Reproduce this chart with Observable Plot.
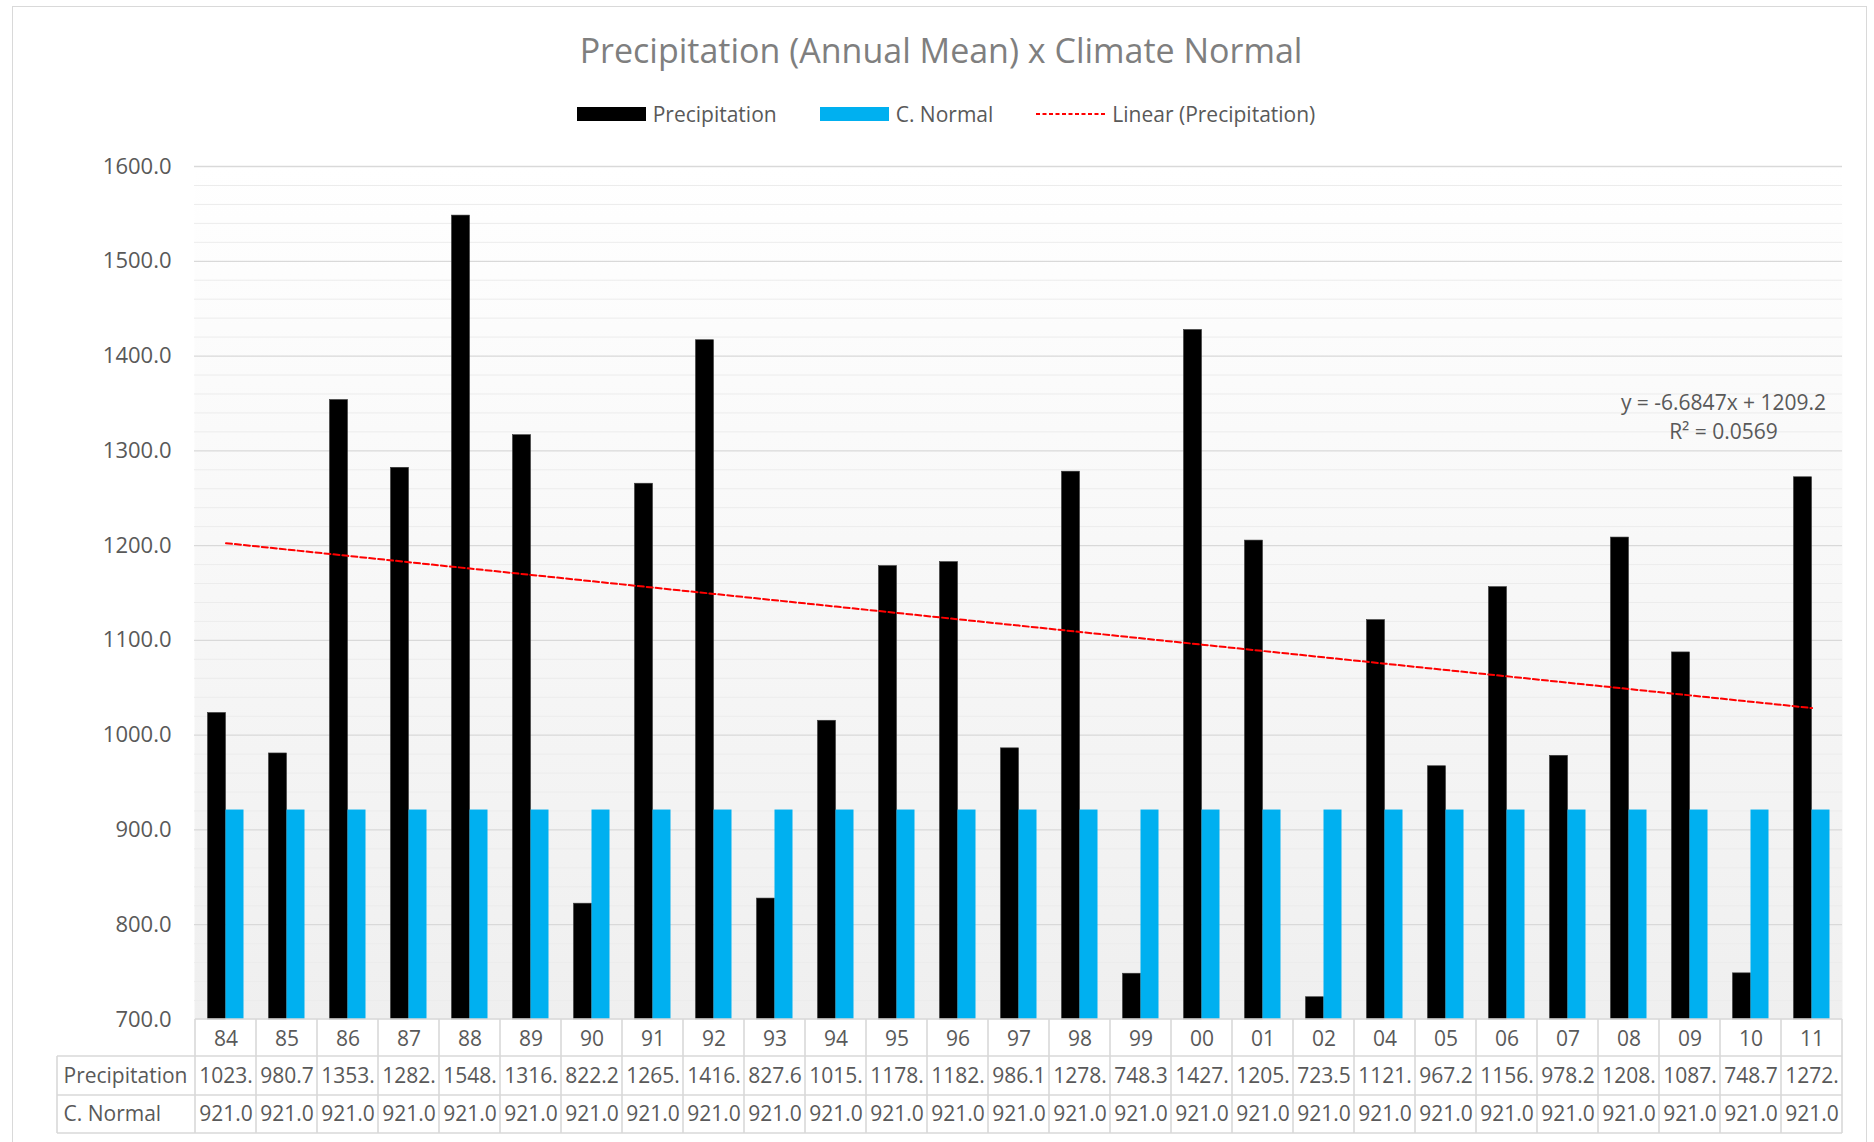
<!DOCTYPE html>
<html>
<head>
<meta charset="utf-8">
<script src="https://cdn.jsdelivr.net/npm/d3@7"></script>
<script src="https://cdn.jsdelivr.net/npm/@observablehq/plot@0.6"></script>
<style>
  html, body { margin: 0; padding: 0; background: #fff; }
  #wrap { position: relative; width: 1874px; height: 1142px; overflow: hidden; font-family: "Open Sans", sans-serif; }
  #border { position: absolute; left: 12px; top: 6px; width: 1855px; height: 1200px; border: 1.5px solid #d9d9d9; box-sizing: border-box; pointer-events: none; }
  #title { position: absolute; left: 12px; width: 1858px; top: 28px; height: 44px; line-height: 44px; text-align: center; font-size: 34px; color: #7f7f7f; }
  #legend { position: absolute; left: 17px; width: 1858px; top: 100px; height: 28px; display: flex; justify-content: center; align-items: center; gap: 43px; font-size: 21px; color: #595959; }
  .item { display: flex; align-items: center; gap: 7px; line-height: 28px; }
  .sw { width: 69px; height: 14px; }
  #chart { position: absolute; left: 0; top: 140px; }
</style>
</head>
<body>
<div id="wrap">
  <div id="title"></div>
  <div id="legend"></div>
  <div id="chart"></div>
  <div id="border"></div>
</div>
<script>
// ---- data ----
const titleText = "Precipitation (Annual Mean) x Climate Normal";
const years = ["84","85","86","87","88","89","90","91","92","93","94","95","96","97","98","99","00","01","02","04","05","06","07","08","09","10","11"];
const precipitation = [1023.4, 980.7, 1353.6, 1282.1, 1548.2, 1316.5, 822.2, 1265.3, 1416.7, 827.6, 1015.2, 1178.4, 1182.6, 986.1, 1278.0, 748.3, 1427.5, 1205.3, 723.5, 1121.4, 967.2, 1156.2, 978.2, 1208.5, 1087.3, 748.7, 1272.1];
const climateNormal = [921.0, 921.0, 921.0, 921.0, 921.0, 921.0, 921.0, 921.0, 921.0, 921.0, 921.0, 921.0, 921.0, 921.0, 921.0, 921.0, 921.0, 921.0, 921.0, 921.0, 921.0, 921.0, 921.0, 921.0, 921.0, 921.0, 921.0];
const seriesNames = ["Precipitation", "C. Normal", "Linear (Precipitation)"];
const seriesColors = ["#000000", "#00b0f0", "#ff0000"];
const yTicks = [700, 800, 900, 1000, 1100, 1200, 1300, 1400, 1500, 1600];
const yMinorTicks = [720, 740, 760, 780, 820, 840, 860, 880, 920, 940, 960, 980, 1020, 1040, 1060, 1080, 1120, 1140, 1160, 1180, 1220, 1240, 1260, 1280, 1320, 1340, 1360, 1380, 1420, 1440, 1460, 1480, 1520, 1540, 1560, 1580];
const equationLines = ["y = -6.6847x + 1209.2", "R² = 0.0569"];

// ---- derived tables ----
const rows = years.map((year, i) => ({year, precipitation: precipitation[i], normal: climateNormal[i], idx: i + 1}));
const mx = d3.mean(rows, d => d.idx), my = d3.mean(rows, d => d.precipitation);
const slope = d3.sum(rows, d => (d.idx - mx) * (d.precipitation - my)) / d3.sum(rows, d => (d.idx - mx) ** 2);
const intercept = my - slope * mx;
const trend = rows.map(d => ({year: d.year, fit: intercept + slope * d.idx}));
const cellFmt = v => d3.format(".1f")(v).slice(0, 5);

// ---- title & legend ----
document.getElementById("title").textContent = titleText;
const legend = d3.select("#legend");
seriesNames.forEach((name, i) => {
  const it = legend.append("div").attr("class", "item");
  if (i < 2) {
    it.append("div").attr("class", "sw").style("background", seriesColors[i]);
  } else {
    const s = it.append("svg").attr("width", 69).attr("height", 14);
    s.append("line").attr("x1", 0).attr("x2", 69).attr("y1", 7).attr("y2", 7)
      .attr("stroke", seriesColors[i]).attr("stroke-width", 2).attr("stroke-dasharray", "4,2.5");
  }
  it.append("span").text(name);
});

// ---- table grid (drawn with the chart's x scale) ----
const rowOff = [0, 37, 76, 114];
function tableGrid(index, scales, values, dimensions) {
  const x = scales.x;
  const bw = typeof x.bandwidth === "function" ? x.bandwidth() : (x(years[1]) - x(years[0]));
  const {marginLeft, marginBottom, height} = dimensions;
  const y0 = height - marginBottom;
  const left = x(years[0]), right = x(years[years.length - 1]) + bw;
  const labelLeft = marginLeft - 137;
  const g = d3.create("svg:g").attr("stroke", "#d9d9d9").attr("stroke-width", 1.6).attr("fill", "none");
  g.append("line").attr("x1", left).attr("x2", right).attr("y1", y0).attr("y2", y0);
  for (const o of rowOff.slice(1)) g.append("line").attr("x1", labelLeft).attr("x2", right).attr("y1", y0 + o).attr("y2", y0 + o);
  for (const yr of years) g.append("line").attr("x1", x(yr)).attr("x2", x(yr)).attr("y1", y0).attr("y2", y0 + rowOff[3]);
  g.append("line").attr("x1", right).attr("x2", right).attr("y1", y0).attr("y2", y0 + rowOff[3]);
  g.append("line").attr("x1", labelLeft).attr("x2", labelLeft).attr("y1", y0 + rowOff[1]).attr("y2", y0 + rowOff[3]);
  return g.node();
}

// ---- chart ----
const chart = Plot.plot({
  width: 1874,
  height: 1002,
  marginTop: 26,
  marginBottom: 123,
  marginLeft: 194,
  marginRight: 32,
  style: {fontFamily: "Open Sans", fontSize: "21px", color: "#595959", background: "transparent", overflow: "visible"},
  x: {domain: years, padding: 0, axis: null},
  y: {domain: [700, 1600], axis: null},
  marks: [
    Plot.frame({fill: "url(#plotbg)", stroke: "none"}),
    Plot.ruleY(yMinorTicks, {stroke: "#ececec", strokeWidth: 1}),
    Plot.ruleY(yTicks.slice(1), {stroke: "#d9d9d9", strokeWidth: 1.3}),
    Plot.barY(rows, {x: "year", y1: 700, y2: "precipitation", fill: seriesColors[0], stroke: "#3a3a3a", strokeWidth: 0.6, insetLeft: 12.5, insetRight: 30.5}),
    Plot.barY(rows, {x: "year", y1: 700, y2: "normal", fill: seriesColors[1], insetLeft: 30.5, insetRight: 12.5}),
    Plot.line(trend, {x: "year", y: "fit", stroke: seriesColors[2], strokeWidth: 2, strokeDasharray: "6,3"}),
    Plot.text([equationLines[0]], {frameAnchor: "top-right", dx: -119, dy: 229, textAnchor: "middle", fontSize: 21, fill: "#595959"}),
    Plot.text([equationLines[1]], {frameAnchor: "top-right", dx: -119, dy: 258, textAnchor: "middle", fontSize: 21, fill: "#595959"}),
    Plot.axisY({ticks: yTicks, tickFormat: d3.format(".1f"), tickSize: 0, tickPadding: 23, fontSize: 22, fill: "#595959"}),
    tableGrid,
    Plot.text(rows, {x: "year", text: "year", frameAnchor: "bottom", dy: 26, fontSize: 21, fill: "#595959"}),
    Plot.text(rows, {x: "year", text: d => cellFmt(d.precipitation), frameAnchor: "bottom", dy: 63.5, fontSize: 21, fill: "#595959"}),
    Plot.text(rows, {x: "year", text: d => cellFmt(d.normal), frameAnchor: "bottom", dy: 101.5, fontSize: 21, fill: "#595959"}),
    Plot.text([seriesNames[0]], {frameAnchor: "bottom-left", dx: -131, dy: 63.5, textAnchor: "start", fontSize: 21, fill: "#595959"}),
    Plot.text([seriesNames[1]], {frameAnchor: "bottom-left", dx: -131, dy: 101.5, textAnchor: "start", fontSize: 21, fill: "#595959"})
  ]
});
const defs = d3.select(chart).insert("defs", ":first-child");
const grad = defs.append("linearGradient").attr("id", "plotbg").attr("x1", 0).attr("y1", 0).attr("x2", 0).attr("y2", 1);
grad.append("stop").attr("offset", "0%").attr("stop-color", "#ffffff");
grad.append("stop").attr("offset", "100%").attr("stop-color", "#efefef");
document.getElementById("chart").appendChild(chart);
</script>
</body>
</html>
